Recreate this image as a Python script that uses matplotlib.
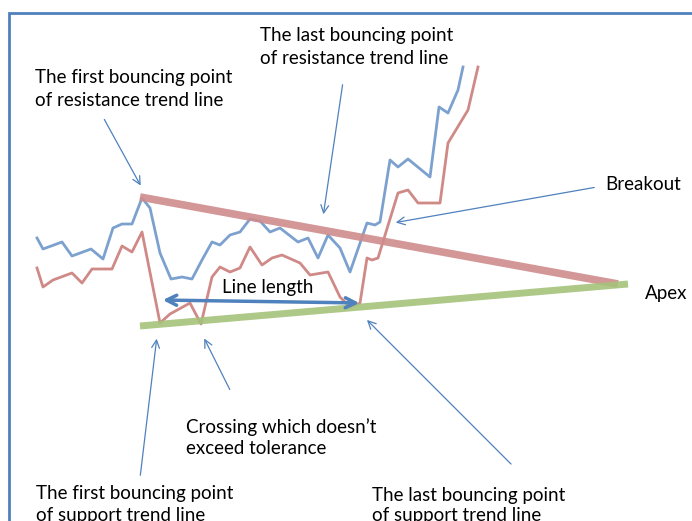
import numpy as np
import matplotlib.pyplot as plt

# price paths (x = time position, y = level, screen-style: larger y is lower)
upper_x = [37, 43, 62, 72, 91, 103, 113, 122, 132, 142, 150, 160, 171, 182, 192, 202, 212, 220, 230,
           240, 250, 260, 270, 280, 298, 308, 318, 328, 340, 350, 367, 375, 380, 390, 398, 408, 430,
           439, 448, 458, 463]
upper_y = [238, 249, 242, 256, 249, 259, 228, 224, 224, 198, 208, 253, 279, 277, 279, 260, 242, 245, 235,
           232, 219, 221, 232, 228, 242, 238, 258, 235, 248, 272, 223, 225, 222, 160, 167, 159, 177,
           107, 113, 90, 67]

lower_x = [37, 43, 53, 72, 82, 92, 112, 122, 132, 142, 160, 170, 190, 201, 212, 220, 230, 240, 250,
           262, 272, 282, 300, 310, 328, 340, 350, 360, 367, 372, 378, 398, 408, 418, 440, 448, 468, 478]
lower_y = [268, 287, 280, 273, 283, 269, 269, 246, 252, 232, 323, 314, 303, 324, 277, 267, 272, 268, 247,
           265, 258, 255, 263, 275, 272, 297, 307, 303, 258, 260, 258, 193, 190, 203, 203, 143, 110, 67]

# trend lines: start / end
resist_x = [140, 618]
resist_y = [197, 284]
support_x = [140, 628]
support_y = [326, 284]

c_blue = '#5b8ac3'
c_red = '#c0625f'
c_arrow = '#4f81bd'

plt.rcParams['font.family'] = ['Lato', 'DejaVu Sans']

fig = plt.figure(figsize=(6.92, 5.21), dpi=100)
ax = fig.add_axes([0, 0, 1, 1])
ax.set_xlim(0, 692)
ax.set_ylim(521, 0)
ax.axis('off')

# frame
ax.plot([9, 9, 692], [521, 13, 13], color=c_arrow, lw=2, solid_joinstyle='miter')

# price lines
ax.plot(upper_x, upper_y, color=c_blue, lw=2, alpha=0.8)
ax.plot(lower_x, lower_y, color=c_red, lw=2, alpha=0.75)

# trend lines drawn over the prices
ax.plot(resist_x, resist_y, color='#d08c8c', lw=5.5, alpha=0.9, solid_capstyle='butt')
ax.plot(support_x, support_y, color='#a5c27a', lw=5, alpha=0.9, solid_capstyle='butt')

# line length
ax.annotate('', xy=(160, 300), xytext=(362, 303),
            arrowprops=dict(arrowstyle='<->', color=c_arrow, lw=2.5, mutation_scale=18))
ax.text(222, 287, 'Line length', fontsize=13.5, va='center', ha='left')

fs = 13.5
arrow = dict(arrowstyle='->', color=c_arrow, lw=0.9, mutation_scale=14)

ax.text(35, 78, 'The first bouncing point', fontsize=fs, va='center')
ax.text(35, 100, 'of resistance trend line', fontsize=fs, va='center')
ax.annotate('', xy=(142, 188), xytext=(103, 117), arrowprops=arrow)

ax.text(260, 36, 'The last bouncing point', fontsize=fs, va='center')
ax.text(260, 58, 'of resistance trend line', fontsize=fs, va='center')
ax.annotate('', xy=(323, 217), xytext=(343, 82), arrowprops=arrow)

ax.text(605, 185, 'Breakout', fontsize=fs, va='center')
ax.annotate('', xy=(393, 223), xytext=(597, 187), arrowprops=arrow)

ax.text(645, 293, 'Apex', fontsize=fs, va='center')

ax.text(186, 427, 'Crossing which doesn\u2019t', fontsize=fs, va='center')
ax.text(186, 449, 'exceed tolerance', fontsize=fs, va='center')
ax.annotate('', xy=(203, 336), xytext=(231, 392), arrowprops=arrow)

ax.text(36, 494, 'The first bouncing point', fontsize=fs, va='center')
ax.text(36, 515, 'of support trend line', fontsize=fs, va='center')
ax.annotate('', xy=(157, 336), xytext=(140, 478), arrowprops=arrow)

ax.text(372, 496, 'The last bouncing point', fontsize=fs, va='center')
ax.text(372, 516, 'of support trend line', fontsize=fs, va='center')
ax.annotate('', xy=(365, 318), xytext=(513, 466), arrowprops=arrow)

fig.savefig('out.png', dpi=100)
